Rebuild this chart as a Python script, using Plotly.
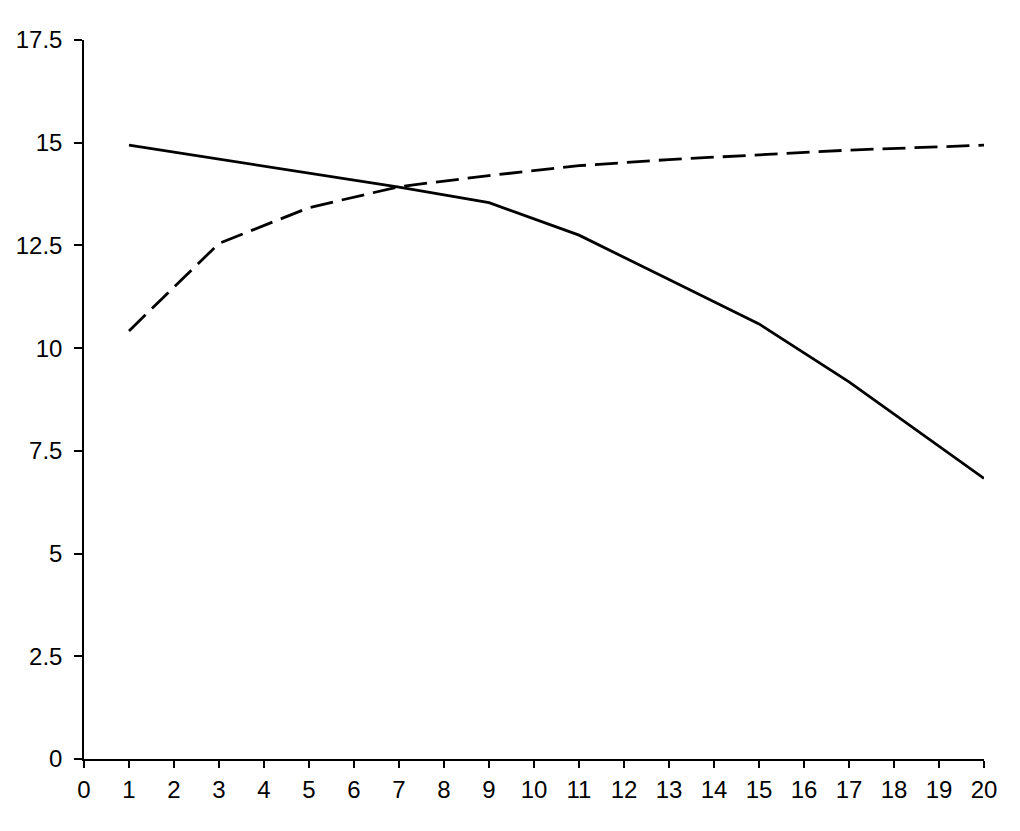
import plotly.graph_objects as go

x_solid = [1, 3, 5, 7, 9, 11, 13, 15, 17, 20]
y_solid = [14.94, 14.6, 14.25, 13.92, 13.54, 12.75, 11.67, 10.59, 9.18, 6.83]
x_dashed = [1, 3, 5, 7, 9, 11, 13, 15, 17, 20]
y_dashed = [10.42, 12.55, 13.42, 13.93, 14.2, 14.44, 14.59, 14.71, 14.82, 14.94]
x_ticks = list(range(0, 21))
y_ticks = [0, 2.5, 5, 7.5, 10, 12.5, 15, 17.5]
y_tick_text = ["0", "2.5", "5", "7.5", "10", "12.5", "15", "17.5"]

fig = go.Figure()
fig.add_trace(go.Scatter(x=x_solid, y=y_solid, mode="lines",
                         line=dict(color="black", width=2.8), showlegend=False))
fig.add_trace(go.Scatter(x=x_dashed, y=y_dashed, mode="lines",
                         line=dict(color="black", width=2.8, dash="23px,9px"), showlegend=False))

fig.update_layout(
    width=1020, height=831,
    margin=dict(l=76, r=44, t=32, b=80),
    paper_bgcolor="white", plot_bgcolor="white",
    font=dict(family="Liberation Sans, Arial, sans-serif", size=24, color="black"),
)
fig.update_xaxes(range=[0, 20], tickvals=x_ticks, ticktext=[str(v) for v in x_ticks],
                 showgrid=False, zeroline=False, showline=True, linecolor="black", linewidth=1.5,
                 ticks="outside", ticklen=7, tickwidth=1.5, tickcolor="black",
                 ticklabelstandoff=1, automargin=False)
fig.update_yaxes(range=[0, 17.5], tickvals=y_ticks, ticktext=y_tick_text,
                 showgrid=False, zeroline=False, showline=True, linecolor="black", linewidth=1.5,
                 ticks="outside", ticklen=8, tickwidth=1.5, tickcolor="black",
                 ticklabelstandoff=7, automargin=False)

fig.write_html("out.html")
